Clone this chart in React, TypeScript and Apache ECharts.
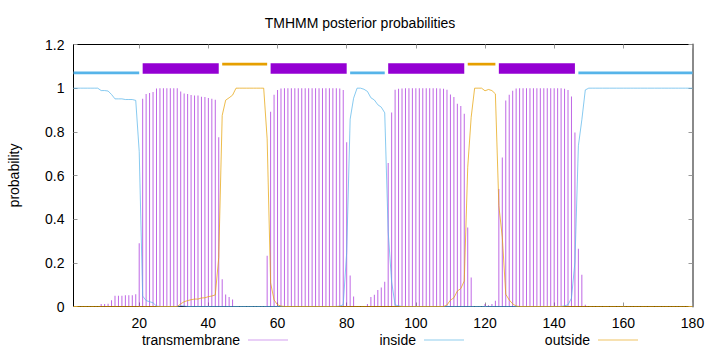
import { useEffect, useRef } from "react";
import * as echarts from "echarts";

// Residue positions 1..180
const residues: number[] = Array.from({ length: 180 }, (_, i) => i + 1);

// Posterior probability of transmembrane helix per residue
const transmembrane: number[] = [
  0, 0, 0, 0, 0, 0, 0, 0, 0.011, 0.011,
  0.013, 0.029, 0.049, 0.049, 0.049, 0.052, 0.052, 0.052, 0.056, 0.29,
  0.952, 0.973, 0.978, 0.983, 0.998, 1, 1, 1, 1, 1,
  1, 0.985, 0.976, 0.973, 0.969, 0.966, 0.966, 0.961, 0.96, 0.955,
  0.952, 0.947, 0.775, 0.125, 0.055, 0.044, 0.032, 0, 0, 0,
  0, 0, 0, 0, 0, 0, 0.232, 0.892, 0.97, 0.992,
  0.998, 1, 1, 1, 1, 1, 1, 1, 1, 1,
  1, 1, 1, 1, 1, 1, 1, 0.998, 0.992, 0.752,
  0.142, 0.046, 0, 0, 0, 0.012, 0.044, 0.054, 0.076, 0.087,
  0.113, 0.657, 0.888, 0.993, 0.997, 0.998, 1, 1, 1, 1,
  1, 1, 1, 1, 1, 1, 0.998, 0.997, 0.993, 0.971,
  0.96, 0.929, 0.918, 0.883, 0.362, 0.133, 0, 0, 0, 0.012,
  0.006, 0.011, 0.026, 0.538, 0.683, 0.944, 0.97, 0.988, 0.998, 1,
  1, 1, 1, 1, 1, 1, 1, 1, 1, 1,
  1, 1, 0.997, 0.992, 0.962, 0.797, 0.264, 0.145, 0.008, 0,
  0, 0, 0, 0, 0, 0, 0, 0, 0, 0,
  0, 0, 0, 0, 0, 0, 0, 0, 0, 0,
  0, 0, 0, 0, 0, 0, 0, 0, 0, 0,
];

// Posterior probability of "inside" per residue
const inside: number[] = [
  1, 1, 1, 1, 1, 1, 1, 1, 0.989, 0.989,
  0.987, 0.971, 0.951, 0.951, 0.951, 0.948, 0.948, 0.948, 0.944, 0.71,
  0.048, 0.027, 0.022, 0.017, 0.002, 0, 0, 0, 0, 0,
  0, 0.003, 0.002, 0, 0, 0, 0, 0, 0, 0,
  0, 0, 0, 0, 0, 0, 0, 0, 0, 0,
  0, 0, 0, 0, 0, 0, 0, 0, 0, 0,
  0, 0, 0, 0, 0, 0, 0, 0, 0, 0,
  0, 0, 0, 0, 0, 0, 0, 0.002, 0.008, 0.248,
  0.858, 0.954, 1, 1, 0.995, 0.985, 0.956, 0.946, 0.924, 0.913,
  0.887, 0.343, 0.112, 0.007, 0.003, 0, 0, 0, 0, 0,
  0, 0, 0, 0, 0, 0, 0, 0, 0, 0,
  0, 0, 0, 0, 0, 0, 0, 0, 0, 0,
  0, 0, 0, 0, 0, 0, 0, 0, 0, 0,
  0, 0, 0, 0, 0, 0, 0, 0, 0, 0,
  0, 0, 0.003, 0.008, 0.038, 0.203, 0.736, 0.855, 0.992, 1,
  1, 1, 1, 1, 1, 1, 1, 1, 1, 1,
  1, 1, 1, 1, 1, 1, 1, 1, 1, 1,
  1, 1, 1, 1, 1, 1, 1, 1, 1, 1,
];

// Posterior probability of "outside" per residue
const outside: number[] = [
  0, 0, 0, 0, 0, 0, 0, 0, 0, 0,
  0, 0, 0, 0, 0, 0, 0, 0, 0, 0,
  0, 0, 0, 0, 0, 0, 0, 0, 0, 0,
  0, 0.012, 0.022, 0.027, 0.031, 0.034, 0.034, 0.039, 0.04, 0.045,
  0.048, 0.053, 0.225, 0.875, 0.945, 0.956, 0.968, 1, 1, 1,
  1, 1, 1, 1, 1, 1, 0.768, 0.108, 0.03, 0.008,
  0.002, 0, 0, 0, 0, 0, 0, 0, 0, 0,
  0, 0, 0, 0, 0, 0, 0, 0, 0, 0,
  0, 0, 0, 0, 0, 0, 0, 0, 0, 0,
  0, 0, 0, 0, 0, 0, 0, 0, 0, 0,
  0, 0, 0, 0, 0, 0, 0, 0, 0.007, 0.029,
  0.04, 0.071, 0.082, 0.117, 0.638, 0.867, 1, 1, 1, 0.988,
  0.994, 0.989, 0.974, 0.462, 0.317, 0.056, 0.03, 0.012, 0.002, 0,
  0, 0, 0, 0, 0, 0, 0, 0, 0, 0,
  0, 0, 0, 0, 0, 0, 0, 0, 0, 0,
  0, 0, 0, 0, 0, 0, 0, 0, 0, 0,
  0, 0, 0, 0, 0, 0, 0, 0, 0, 0,
  0, 0, 0, 0, 0, 0, 0, 0, 0, 0,
];

// Predicted topology segments: start, end, kind
const segmentStart: number[] = [1, 21, 44, 58, 81, 92, 115, 124, 147];
const segmentEnd: number[] = [20, 43, 57, 80, 91, 114, 123, 146, 180];
const segmentKind: string[] = ["inside", "TMhelix", "outside", "TMhelix", "inside", "TMhelix", "outside", "TMhelix", "inside"];

const xTickValues: number[] = [20, 40, 60, 80, 100, 120, 140, 160, 180];

const seriesNames = ["transmembrane", "inside", "outside"];

// styles (not data)
const PURPLE = "#9400d3";
const BLUE = "#56b4e9";
const ORANGE = "#e69f00";
const FONT = "'Liberation Sans', Arial, sans-serif";
const kindIndex: Record<string, number> = { inside: 0, TMhelix: 1, outside: 2 };
const kindStyle = [
  { level: 1.07, color: BLUE, thick: 2.7 },
  { level: 1.09, color: PURPLE, thick: 10.5 },
  { level: 1.11, color: ORANGE, thick: 2.7 },
];

export default function App() {
  const ref = useRef<HTMLDivElement>(null);

  useEffect(() => {
    if (!ref.current) return;
    const chart = echarts.init(ref.current, undefined, { renderer: "svg" });

    const tmData = residues.map((r, i) => [r, transmembrane[i]]);
    const inData = residues.map((r, i) => [r, inside[i]]);
    const outData = residues.map((r, i) => [r, outside[i]]);
    const segData = segmentStart.map((s, i) => [s, segmentEnd[i], kindIndex[segmentKind[i]]]);

    const textStyle = { color: "#000", fontSize: 14, fontFamily: FONT };

    const legendBase = {
      top: 333,
      align: "right" as const,
      icon: "rect",
      itemWidth: 40,
      itemHeight: 1,
      padding: 0,
      selectedMode: false,
      textStyle: { ...textStyle, padding: [0, 3, 0, 0] },
    };

    chart.setOption({
      animation: false,
      backgroundColor: "#fff",
      title: {
        text: "TMHMM posterior probabilities",
        left: "center",
        top: 11,
        textStyle: { ...textStyle, fontWeight: "normal" },
      },
      legend: [
        { ...legendBase, right: 432, data: [{ name: seriesNames[0], itemStyle: { color: "#b862e4" } }] },
        { ...legendBase, right: 256, data: [{ name: seriesNames[1], itemStyle: { color: "#8fcdee" } }] },
        { ...legendBase, right: 82, data: [{ name: seriesNames[2], itemStyle: { color: "#efc465" } }] },
      ],
      grid: { left: 73.5, right: 27.5, top: 44.5, bottom: 45.5, containLabel: false, outerBoundsMode: "none" },
      xAxis: [
        {
          type: "value",
          min: 1,
          max: 180,
          position: "bottom",
          axisLine: { show: true, onZero: false, lineStyle: { color: "#000", width: 1 } },
          axisTick: { show: true, inside: true, length: 4, customValues: xTickValues, lineStyle: { color: "#999" } },
          axisLabel: { show: true, customValues: xTickValues, margin: 9, ...textStyle },
          splitLine: { show: false },
        },
        {
          type: "value",
          min: 1,
          max: 180,
          position: "top",
          axisLine: { show: true, onZero: false, lineStyle: { color: "#000", width: 1 } },
          axisTick: { show: true, inside: true, length: 4, customValues: xTickValues, lineStyle: { color: "#999" } },
          axisLabel: { show: false },
          splitLine: { show: false },
        },
      ],
      yAxis: [
        {
          type: "value",
          min: 0,
          max: 1.2,
          interval: 0.2,
          position: "left",
          name: "probability",
          nameLocation: "middle",
          nameGap: 53,
          nameTextStyle: textStyle,
          axisLine: { show: true, onZero: false, lineStyle: { color: "#000", width: 1 } },
          axisTick: { show: true, inside: true, length: 4, lineStyle: { color: "#999" } },
          axisLabel: { show: true, margin: 9, ...textStyle },
          splitLine: { show: false },
        },
        {
          type: "value",
          min: 0,
          max: 1.2,
          interval: 0.2,
          position: "right",
          axisLine: { show: true, onZero: false, lineStyle: { color: "#8a8a8a", width: 2 } },
          axisTick: { show: true, inside: true, length: 4, lineStyle: { color: "#999" } },
          axisLabel: { show: false },
          splitLine: { show: false },
        },
      ],
      series: [
        {
          name: seriesNames[0],
          type: "bar",
          xAxisIndex: 0,
          yAxisIndex: 0,
          data: tmData,
          barWidth: 0.8,
          itemStyle: { color: PURPLE, opacity: 0.6 },
          silent: true,
          z: 2,
        },
        {
          name: seriesNames[1],
          type: "line",
          xAxisIndex: 0,
          yAxisIndex: 0,
          data: inData,
          symbol: "none",
          lineStyle: { color: BLUE, width: 1, opacity: 0.7 },
          itemStyle: { color: BLUE },
          silent: true,
          z: 3,
        },
        {
          name: seriesNames[2],
          type: "line",
          xAxisIndex: 0,
          yAxisIndex: 0,
          data: outData,
          symbol: "none",
          lineStyle: { color: ORANGE, width: 1, opacity: 0.7 },
          itemStyle: { color: ORANGE },
          silent: true,
          z: 4,
        },
        {
          name: "topology",
          type: "custom",
          xAxisIndex: 0,
          yAxisIndex: 0,
          data: segData,
          encode: { x: [0, 1] },
          silent: true,
          z: 5,
          renderItem: (params: any, api: any) => {
            const s = api.value(0);
            const e = api.value(1);
            const st = kindStyle[api.value(2)];
            const a = api.coord([s, st.level]);
            const b = api.coord([e, st.level]);
            return {
              type: "rect",
              shape: { x: a[0], y: a[1] - st.thick / 2, width: b[0] - a[0], height: st.thick },
              style: { fill: st.color },
            };
          },
        },
      ],
    });

    return () => chart.dispose();
  }, []);

  return (
    <div
      ref={ref}
      style={{ position: "absolute", left: 0, top: 0, width: 720, height: 352, background: "#fff" }}
    />
  );
}
